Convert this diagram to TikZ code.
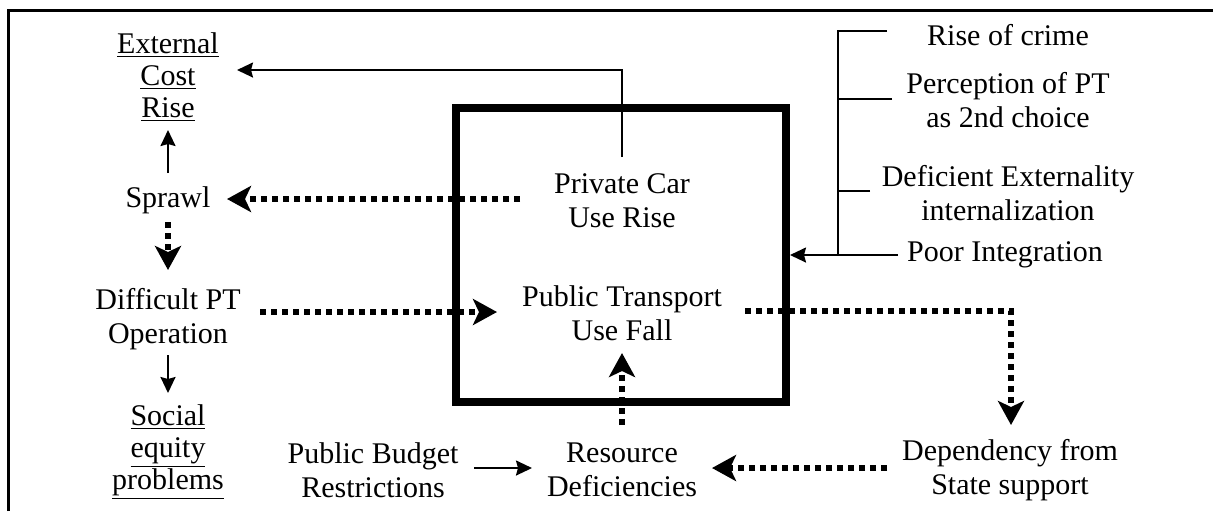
\documentclass[tikz,border=0pt]{standalone}
\usepackage{fontspec}
\setmainfont{Liberation Serif}
\usetikzlibrary{arrows.meta}
\begin{document}
\begin{tikzpicture}[x=0.5pt,y=-0.5pt,
  lbl/.style={align=center,inner sep=0pt,font=\fontsize{15}{17}\selectfont},
  ulbl/.style={align=center,inner sep=0pt,font=\fontsize{15}{16}\selectfont},
  thinarrow/.style={line width=1pt,-{Stealth[length=8pt,width=7.5pt,inset=1pt]}},
  thinline/.style={line width=1pt},
  dotarrow/.style={line width=3pt,dash pattern=on 3pt off 2.5pt,-{Stealth[length=12pt,width=13pt,inset=3pt]}},
  corebox/.style={draw,line width=4pt,minimum width=330pt/2,minimum height=294pt/2,inner sep=0pt}
]
\useasboundingbox (0,0) rectangle (1213,511);
% outer frame
\draw[line width=1.5pt] (8,511) -- (8,10) -- (1213,10);
% central box
\node[corebox,minimum width=165pt,minimum height=147pt] (core) at (621,255) {};
% nodes
\node[ulbl] (ext) at (168,77) {\underline{External}\\\underline{Cost}\\\underline{Rise}};
\node[lbl] (sprawl) at (168,200) {Sprawl};
\node[lbl] (diff) at (168,319) {Difficult PT\\Operation};
\node[ulbl] (social) at (168,452) {\underline{Social}\\\underline{equity}\\\underline{problems}};
\node[lbl] (pcar) at (622,201) {Private Car\\Use Rise};
\node[lbl] (pt) at (622,313) {Public Transport\\Use Fall};
\node[lbl] (res) at (622,470) {Resource\\Deficiencies};
\node[lbl] (pb) at (373,470) {Public Budget\\Restrictions};
\node[lbl] (dep) at (1010,470) {Dependency from\\State support};
\node[lbl] (crime) at (1008,35) {Rise of crime};
\node[lbl] (perc) at (1008,100) {Perception of PT\\as 2nd choice};
\node[lbl] (defi) at (1008,193) {Deficient Externality\\internalization};
\node[lbl] (poor) at (1005,255) {Poor Integration};
% connectors
\draw[thinarrow] ([yshift=22pt]pcar.center) |- ([xshift=34.5pt,yshift=3.5pt]ext.center);
\draw[dotarrow] ([xshift=-51pt,yshift=1pt]pcar.center) -- ([xshift=29.5pt,yshift=0.5pt]sprawl.center);
\draw[thinarrow] ([yshift=13.5pt]sprawl.center) -- ([yshift=-26.5pt]ext.center);
\draw[dotarrow] ([yshift=-11pt]sprawl.center) -- ([yshift=24.5pt]diff.center);
\draw[thinarrow] ([yshift=-18pt]diff.center) -- ([yshift=29.5pt]social.center);
\draw[dotarrow] ([xshift=46pt,yshift=3.5pt]diff.center) -- ([xshift=-62.5pt,yshift=0.5pt]pt.center);
\draw[dotarrow] ([xshift=61.5pt,yshift=1pt]pt.center) -| ([xshift=0.5pt,yshift=22.5pt]dep.center);
\draw[dotarrow] ([xshift=-61.5pt,yshift=1pt]dep.center) -- ([xshift=45pt,yshift=1pt]res.center);
\draw[dotarrow] ([yshift=22.5pt]res.center) -- ([yshift=-20pt]pt.center);
\draw[thinarrow] ([xshift=50.5pt,yshift=1pt]pb.center) -- ([xshift=-45pt,yshift=1pt]res.center);
% bracket of factors
\coordinate (bus) at (838,255);
\draw[thinline] ([xshift=-60.5pt,yshift=2pt]crime.center) -| (bus);
\draw[thinline] ([xshift=-58pt,yshift=0.5pt]perc.center) -| (bus);
\draw[thinline] ([xshift=-69pt,yshift=1pt]defi.center) -| (bus);
\draw[thinarrow] ([xshift=-53.5pt]poor.center) -- (bus) -- (core.east);
\end{tikzpicture}
\end{document}
